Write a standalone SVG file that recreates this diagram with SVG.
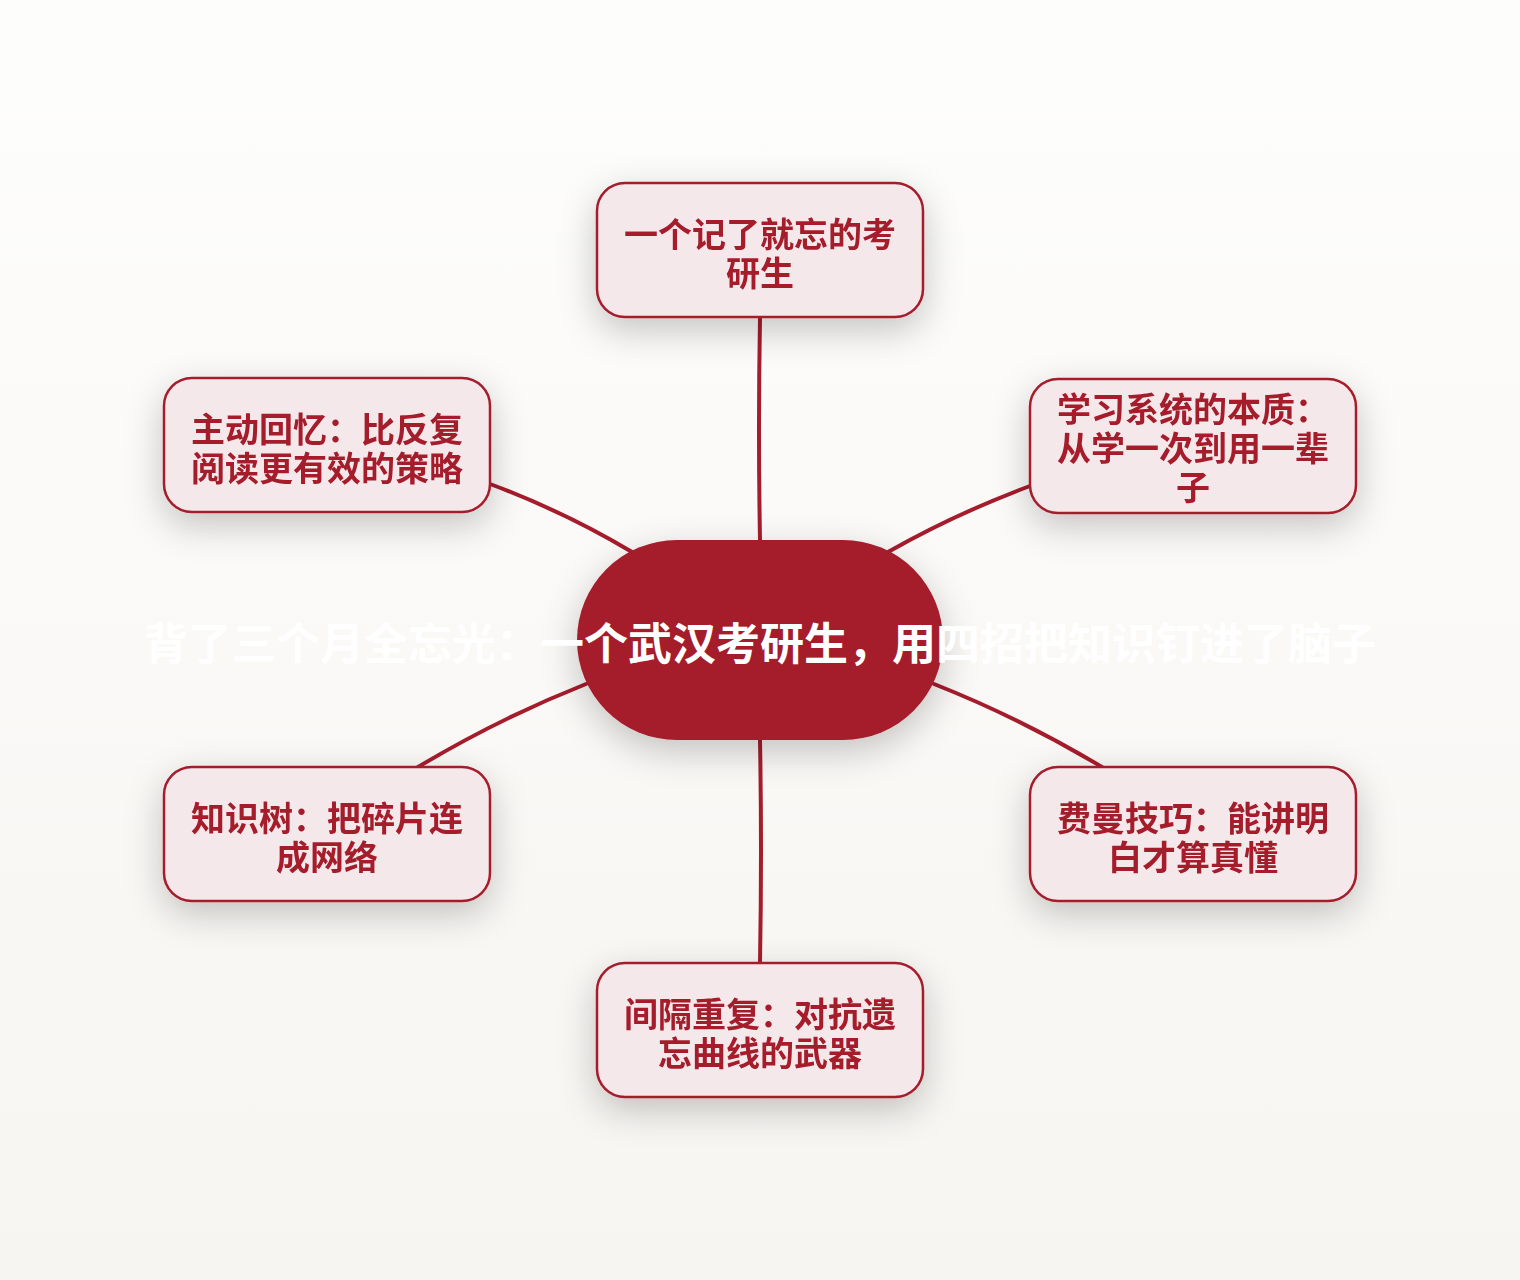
<svg xmlns="http://www.w3.org/2000/svg" width="1520" height="1280" viewBox="0 0 1520 1280">
  <defs>
    <linearGradient id="bg" x1="0" y1="0" x2="0" y2="1">
      <stop offset="0" stop-color="#fdfdfc"/>
      <stop offset="1" stop-color="#f7f5f1"/>
    </linearGradient>
    <filter id="shadow" x="-40%" y="-50%" width="180%" height="210%">
      <feGaussianBlur in="SourceAlpha" stdDeviation="18"/>
      <feOffset dy="12" result="b"/>
      <feFlood flood-color="#000" flood-opacity="0.22"/>
      <feComposite in2="b" operator="in"/>
      <feMerge>
        <feMergeNode/>
        <feMergeNode in="SourceGraphic"/>
      </feMerge>
    </filter>
    <style>
      .node rect { fill: #f5e8eb; stroke: #a51c2c; stroke-width: 2.5; }
      .node text { fill: #a51c2c; font-family: "Noto Sans CJK SC", "Noto Sans", sans-serif; font-weight: 700; font-size: 34px; text-anchor: middle; }
      .edge { fill: none; stroke: #a51c2c; stroke-width: 4; stroke-linecap: round; }
      .title { fill: #ffffff; font-family: "Noto Sans CJK SC", "Noto Sans", sans-serif; font-weight: 700; font-size: 44px; text-anchor: middle; }
    </style>
  </defs>
  <rect x="0" y="0" width="1520" height="1280" fill="url(#bg)"/>

  <g id="connectors">
    <path class="edge" d="M760,318 Q758,430 760,540"/>
    <path class="edge" d="M1030,486 Q955,514 888,552"/>
    <path class="edge" d="M490,484 Q565,512 632,552"/>
    <path class="edge" d="M586,684 Q500,718 418,767"/>
    <path class="edge" d="M934,684 Q1020,718 1102,767"/>
    <path class="edge" d="M760,740 Q762,850 760,963"/>
  </g>

  <g id="center" filter="url(#shadow)">
    <rect x="577" y="540" width="366" height="200" rx="100" ry="100" fill="#a51c2c"/>
  </g>

  <g id="node-top" class="node" filter="url(#shadow)">
    <rect x="597" y="183" width="326" height="134" rx="28"/>
    <text x="760" y="247">一个记了就忘的考</text>
    <text x="760" y="286">研生</text>
  </g>

  <g id="node-upper-right" class="node" filter="url(#shadow)">
    <rect x="1030" y="379" width="326" height="134" rx="28"/>
    <text x="1193" y="422">学习系统的本质：</text>
    <text x="1193" y="461">从学一次到用一辈</text>
    <text x="1193" y="500">子</text>
  </g>

  <g id="node-upper-left" class="node" filter="url(#shadow)">
    <rect x="164" y="378" width="326" height="134" rx="28"/>
    <text x="327" y="442">主动回忆：比反复</text>
    <text x="327" y="481">阅读更有效的策略</text>
  </g>

  <g id="node-lower-left" class="node" filter="url(#shadow)">
    <rect x="164" y="767" width="326" height="134" rx="28"/>
    <text x="327" y="831">知识树：把碎片连</text>
    <text x="327" y="870">成网络</text>
  </g>

  <g id="node-lower-right" class="node" filter="url(#shadow)">
    <rect x="1030" y="767" width="326" height="134" rx="28"/>
    <text x="1193" y="831">费曼技巧：能讲明</text>
    <text x="1193" y="870">白才算真懂</text>
  </g>

  <g id="node-bottom" class="node" filter="url(#shadow)">
    <rect x="597" y="963" width="326" height="134" rx="28"/>
    <text x="760" y="1027">间隔重复：对抗遗</text>
    <text x="760" y="1066">忘曲线的武器</text>
  </g>

  <g id="center-title">
    <text class="title" x="760" y="660">背了三个月全忘光：一个武汉考研生，用四招把知识钉进了脑子</text>
  </g>
</svg>
